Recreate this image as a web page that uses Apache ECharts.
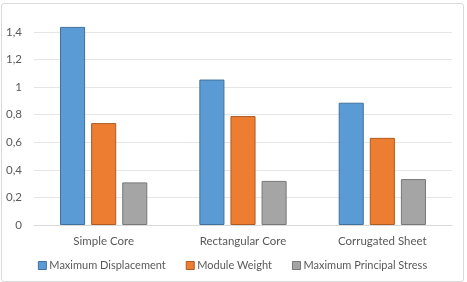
<!DOCTYPE html>
<html>
<head>
<meta charset="utf-8">
<script src="https://cdn.jsdelivr.net/npm/echarts@6/dist/echarts.min.js"></script>
<style>
  html, body { margin: 0; padding: 0; background: #fff; }
  #chart { position: absolute; left: 1px; top: 3px; width: 461px; height: 277px; border: 1px solid #d9d9d9; border-radius: 3px; }
</style>
</head>
<body>
<div id="chart"></div>
<script>
const categories = ["Simple Core", "Rectangular Core", "Corrugated Sheet"];
const displacement = [1.437, 1.055, 0.887];
const moduleWeight = [0.739, 0.79, 0.632];
const principalStress = [0.309, 0.32, 0.333];

const names = ["Maximum Displacement", "Module Weight", "Maximum Principal Stress"];
const colors = ["#5b9bd5", "#ed7d31", "#a5a5a5"];
const borders = ["#41719c", "#ae5a21", "#787878"];
const values = [displacement, moduleWeight, principalStress];

const chart = echarts.init(document.getElementById("chart"));
chart.setOption({
  animation: false,
  textStyle: { fontFamily: "Lato", color: "#595959" },
  grid: { left: 32, right: 11, top: 28, bottom: 56 },
  legend: {
    bottom: 5,
    left: "center",
    itemWidth: 8,
    itemHeight: 8,
    itemGap: 20,
    textStyle: { fontFamily: "Lato", fontSize: 11, color: "#595959", padding: [0, 0, 0, -2] },
    data: names.map((n, i) => ({ name: n, icon: "rect", itemStyle: { color: colors[i], borderColor: borders[i], borderWidth: 1 } }))
  },
  xAxis: {
    type: "category",
    data: categories,
    axisLine: { lineStyle: { color: "#d9d9d9" } },
    axisTick: { show: false },
    axisLabel: { fontFamily: "Lato", fontSize: 11.5, color: "#595959", margin: 10 }
  },
  yAxis: {
    type: "value",
    min: 0,
    max: 1.4,
    interval: 0.2,
    axisLabel: {
      fontFamily: "Lato",
      fontSize: 11.5,
      color: "#595959",
      margin: 12,
      formatter: v => String(Math.round(v * 10) / 10).replace(".", ",")
    },
    splitLine: { lineStyle: { color: "#e6e6e6" } }
  },
  series: names.map((n, i) => ({
    name: n,
    type: "bar",
    data: values[i],
    clip: false,
    barWidth: "18%",
    barGap: "24%",
    itemStyle: { color: colors[i], borderColor: borders[i], borderWidth: 1 }
  }))
});
</script>
</body>
</html>
